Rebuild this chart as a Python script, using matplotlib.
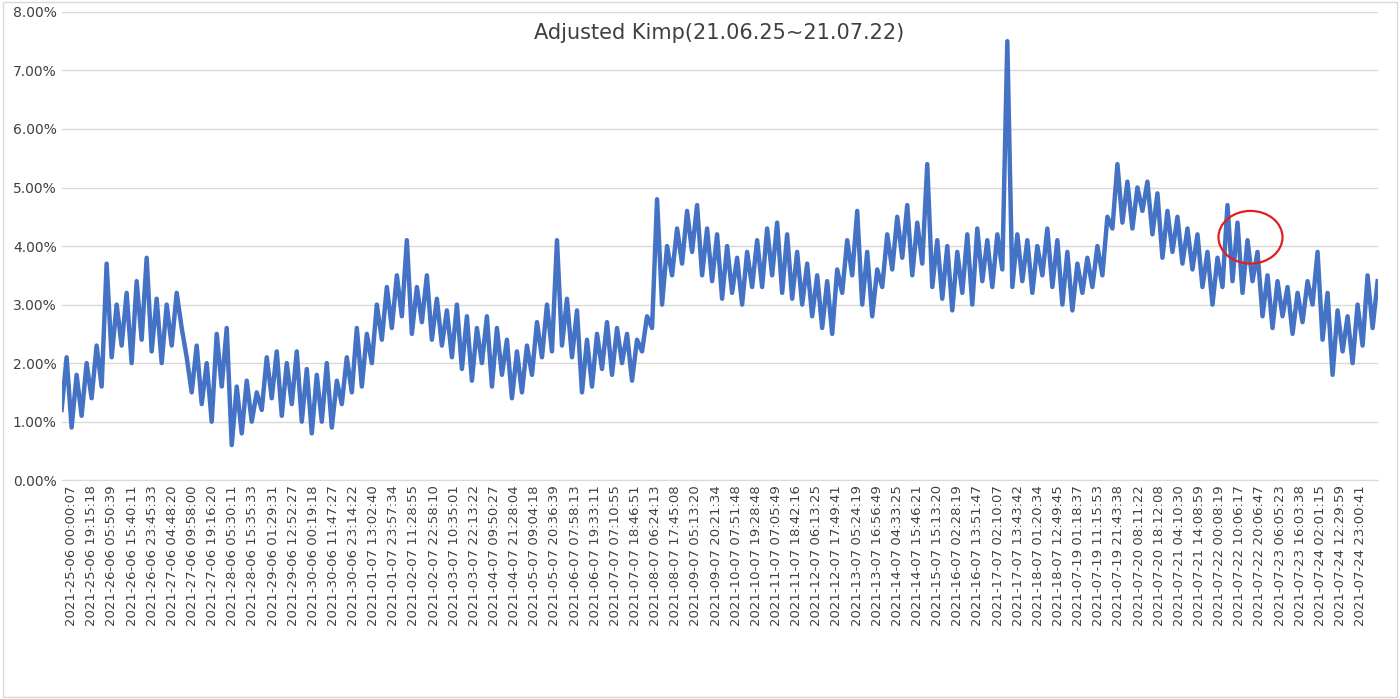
import matplotlib.pyplot as plt
from matplotlib.ticker import PercentFormatter
from matplotlib.patches import Ellipse, Rectangle
import numpy as np

# kimp values in percent left to right
kimp = [
    1.2,2.1,0.9,1.8,1.1,2.0,1.4,2.3,1.6,3.7,
    2.1,3.0,2.3,3.2,2.0,3.4,2.4,3.8,2.2,3.1,
    2.0,3.0,2.3,3.2,2.6,2.1,1.5,2.3,1.3,2.0,
    1.0,2.5,1.6,2.6,0.6,1.6,0.8,1.7,1.0,1.5,
    1.2,2.1,1.4,2.2,1.1,2.0,1.3,2.2,1.0,1.9,
    0.8,1.8,1.0,2.0,0.9,1.7,1.3,2.1,1.5,2.6,
    1.6,2.5,2.0,3.0,2.4,3.3,2.6,3.5,2.8,4.1,
    2.5,3.3,2.7,3.5,2.4,3.1,2.3,2.9,2.1,3.0,
    1.9,2.8,1.7,2.6,2.0,2.8,1.6,2.6,1.8,2.4,
    1.4,2.2,1.5,2.3,1.8,2.7,2.1,3.0,2.2,4.1,
    2.3,3.1,2.1,2.9,1.5,2.4,1.6,2.5,1.9,2.7,
    1.8,2.6,2.0,2.5,1.7,2.4,2.2,2.8,2.6,4.8,
    3.0,4.0,3.5,4.3,3.7,4.6,3.9,4.7,3.5,4.3,
    3.4,4.2,3.1,4.0,3.2,3.8,3.0,3.9,3.3,4.1,
    3.3,4.3,3.5,4.4,3.2,4.2,3.1,3.9,3.0,3.7,
    2.8,3.5,2.6,3.4,2.5,3.6,3.2,4.1,3.5,4.6,
    3.0,3.9,2.8,3.6,3.3,4.2,3.6,4.5,3.8,4.7,
    3.5,4.4,3.7,5.4,3.3,4.1,3.1,4.0,2.9,3.9,
    3.2,4.2,3.0,4.3,3.4,4.1,3.3,4.2,3.6,7.5,
    3.3,4.2,3.4,4.1,3.2,4.0,3.5,4.3,3.3,4.1,
    3.0,3.9,2.9,3.7,3.2,3.8,3.3,4.0,3.5,4.5,
    4.3,5.4,4.4,5.1,4.3,5.0,4.6,5.1,4.2,4.9,
    3.8,4.6,3.9,4.5,3.7,4.3,3.6,4.2,3.3,3.9,
    3.0,3.8,3.3,4.7,3.4,4.4,3.2,4.1,3.4,3.9,
    2.8,3.5,2.6,3.4,2.8,3.3,2.5,3.2,2.7,3.4,
    3.0,3.9,2.4,3.2,1.8,2.9,2.2,2.8,2.0,3.0,
    2.3,3.5,2.6,3.4,
]

labels = [
    "2021-25-06 00:00:07","2021-25-06 19:15:18","2021-26-06 05:50:39","2021-26-06 15:40:11",
    "2021-26-06 23:45:33","2021-27-06 04:48:20","2021-27-06 09:58:00","2021-27-06 19:16:20",
    "2021-28-06 05:30:11","2021-28-06 15:35:33","2021-29-06 01:29:31","2021-29-06 12:52:27",
    "2021-30-06 00:19:18","2021-30-06 11:47:27","2021-30-06 23:14:22","2021-01-07 13:02:40",
    "2021-01-07 23:57:34","2021-02-07 11:28:55","2021-02-07 22:58:10","2021-03-07 10:35:01",
    "2021-03-07 22:13:22","2021-04-07 09:50:27","2021-04-07 21:28:04","2021-05-07 09:04:18",
    "2021-05-07 20:36:39","2021-06-07 07:58:13","2021-06-07 19:33:11","2021-07-07 07:10:55",
    "2021-07-07 18:46:51","2021-08-07 06:24:13","2021-08-07 17:45:08","2021-09-07 05:13:20",
    "2021-09-07 20:21:34","2021-10-07 07:51:48","2021-10-07 19:28:48","2021-11-07 07:05:49",
    "2021-11-07 18:42:16","2021-12-07 06:13:25","2021-12-07 17:49:41","2021-13-07 05:24:19",
    "2021-13-07 16:56:49","2021-14-07 04:33:25","2021-14-07 15:46:21","2021-15-07 15:13:20",
    "2021-16-07 02:28:19","2021-16-07 13:51:47","2021-17-07 02:10:07","2021-17-07 13:43:42",
    "2021-18-07 01:20:34","2021-18-07 12:49:45","2021-07-19 01:18:37","2021-07-19 11:15:53",
    "2021-07-19 21:43:38","2021-07-20 08:11:22","2021-07-20 18:12:08","2021-07-21 04:10:30",
    "2021-07-21 14:08:59","2021-07-22 00:08:19","2021-07-22 10:06:17","2021-07-22 20:06:47",
    "2021-07-23 06:05:23","2021-07-23 16:03:38","2021-07-24 02:01:15","2021-07-24 12:29:59",
    "2021-07-24 23:00:41",
]

fig = plt.figure(figsize=(14, 6.99), dpi=100)
fig.patches.append(Rectangle((0.002, 0.003), 0.996, 0.994, transform=fig.transFigure,
                             fill=False, edgecolor="#d9d9d9", lw=1))
ax = fig.add_axes([0.044, 0.313, 0.94, 0.67])

ax.plot(range(len(kimp)), np.array(kimp) / 100, color="#4472C4", lw=3.2)
ax.set_xlim(0, len(kimp) - 1)
ax.set_ylim(0, 0.08)
ax.set_yticks(np.arange(0, 0.081, 0.01))
ax.yaxis.set_major_formatter(PercentFormatter(1.0, decimals=2))
ax.set_xticks(np.linspace(2, 259.6, len(labels)))
ax.set_xticklabels(labels, rotation=90, fontsize=9.5, color="#404040")
ax.tick_params(axis="y", labelsize=10, colors="#404040", length=0)
ax.tick_params(axis="x", length=0)
ax.grid(axis="y", color="#d9d9d9", lw=1)
ax.set_axisbelow(True)
for s in ["top", "right", "left"]:
    ax.spines[s].set_visible(False)
ax.spines["bottom"].set_color("#d9d9d9")

ax.text(0.5, 0.955, "Adjusted Kimp(21.06.25~21.07.22)", transform=ax.transAxes,
        ha="center", va="center", fontsize=15, color="#404040")

# red circle marking
ax.add_patch(Ellipse((237.6, 0.0415), 12.8, 0.009, angle=0, fill=False,
                     edgecolor="#e02020", lw=1.6, zorder=5))

fig.savefig("out.png", dpi=100)
